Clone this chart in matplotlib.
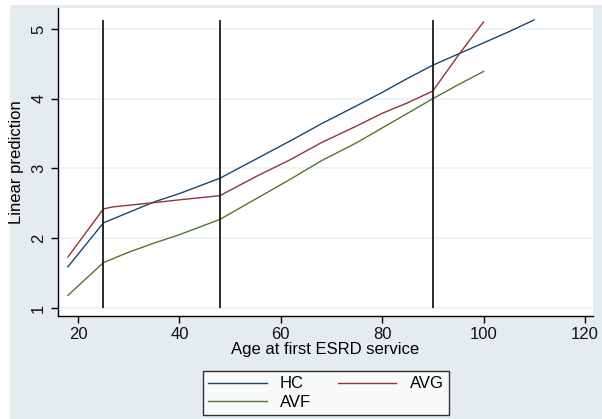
import matplotlib
matplotlib.use("Agg")
import matplotlib.pyplot as plt
from matplotlib.patches import Rectangle

plt.rcParams['font.family'] = ['Liberation Sans', 'DejaVu Sans']

# predictions (age -> linear prediction)
hc_age = [18, 25, 30, 35, 40, 44, 48, 55, 62, 68, 75, 80, 85, 90, 95, 100, 105, 110]
hc_val = [1.59, 2.22, 2.37, 2.52, 2.64, 2.75, 2.86, 3.13, 3.40, 3.64, 3.90, 4.09, 4.29, 4.48, 4.64, 4.80, 4.96, 5.13]

avg_age = [18, 25, 27, 35, 40, 44, 48, 55, 62, 68, 75, 80, 85, 90, 95, 100]
avg_val = [1.73, 2.42, 2.45, 2.51, 2.55, 2.58, 2.61, 2.88, 3.13, 3.37, 3.61, 3.79, 3.94, 4.11, 4.62, 5.10]

avf_age = [18, 25, 30, 35, 40, 44, 48, 55, 62, 68, 75, 80, 85, 90, 95, 100]
avf_val = [1.18, 1.65, 1.80, 1.93, 2.05, 2.16, 2.27, 2.56, 2.85, 3.11, 3.37, 3.58, 3.79, 4.00, 4.20, 4.39]

knots = [25, 48, 90]
xticks = [20, 40, 60, 80, 100, 120]
yticks = [1, 2, 3, 4, 5]

fig = plt.figure(figsize=(6.02, 4.19), dpi=100)
fig.patch.set_facecolor('white')
fig.patches.append(Rectangle((10/602, 0), 1 - 10/602, 1 - 5/419,
                             transform=fig.transFigure, facecolor='#e5ecf0',
                             edgecolor='none', zorder=-10))

ax = fig.add_axes([58/602, 1 - 316/419, 535/602, 308/419])
ax.set_facecolor('white')

ax.plot(hc_age, hc_val, color='#1a476f', lw=1.0, label='HC')
ax.plot(avg_age, avg_val, color='#90353b', lw=1.0, label='AVG')
ax.plot(avf_age, avf_val, color='#55752f', lw=1.0, label='AVF')
ax.vlines(knots, 1.0, 5.13, color='#1a1a1a', lw=1.3)

ax.set_xlim(16.05, 121.6)
ax.set_ylim(0.885, 5.30)
ax.set_xticks(xticks)
ax.set_yticks(yticks)
ax.grid(True, axis='y', color='#eaf0f2', lw=1.2)
ax.set_axisbelow(True)

for s in ['top', 'right']:
    ax.spines[s].set_visible(False)
for s in ['left', 'bottom']:
    ax.spines[s].set_color('black')
    ax.spines[s].set_linewidth(1.0)

ax.tick_params(axis='both', direction='out', length=5, width=1, color='black',
               labelsize=12, labelcolor='#111111')
ax.tick_params(axis='x', pad=3)
ax.tick_params(axis='y', labelrotation=90)
for lab in ax.get_yticklabels():
    lab.set_va('center')

ax.set_xlabel('Age at first ESRD service', fontsize=12, labelpad=0)
ax.set_ylabel('Linear prediction', fontsize=12, labelpad=5)

h = ax.get_legend_handles_labels()[0]
leg = fig.legend([h[0], h[2], h[1]], ['HC', 'AVF', 'AVG'], ncol=2,
                 loc='center', bbox_to_anchor=(326/602, 1 - 393/419),
                 fontsize=12, frameon=True, fancybox=False, edgecolor='black',
                 handlelength=3.5, columnspacing=1.6, handletextpad=0.8,
                 labelspacing=0.2, borderpad=0.3, borderaxespad=0)
leg.get_frame().set_linewidth(1.0)

fig.savefig('out.png', dpi=100, facecolor=fig.get_facecolor())
